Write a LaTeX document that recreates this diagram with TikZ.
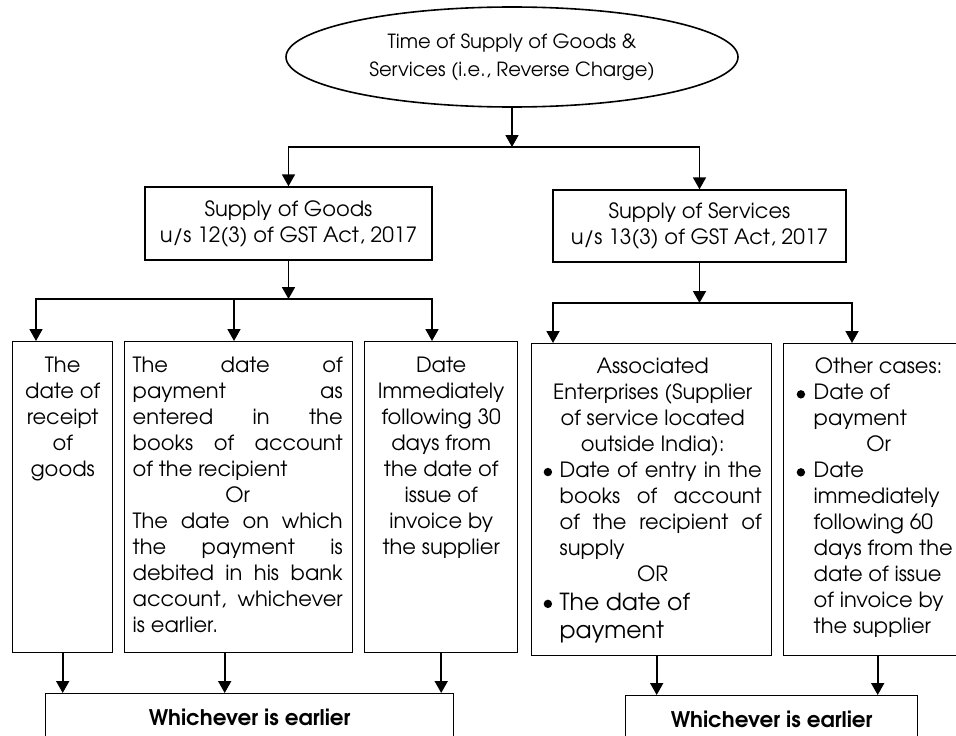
\documentclass[tikz,border=0pt]{standalone}
\usepackage{fontspec}
\setmainfont{TeX Gyre Adventor}
\usetikzlibrary{shapes.geometric,arrows.meta}
\newcommand\boxtext[6]{\parbox[c][#2pt][t]{#1pt}{\vspace*{#5pt}\hspace*{#3pt}\parbox[t]{\dimexpr#1pt-#3pt-#4pt\relax}{\tolerance=10000 #6}}}
\newcommand\bul[1]{\noindent\makebox[#1pt][l]{\tikz[baseline=0pt]\fill (4.2pt,0.27em) circle (4.2pt);}}
\begin{document}
\begin{tikzpicture}[x=1pt,y=-1pt,
  box/.style={draw, line width=1.4pt, rectangle, inner sep=0pt, anchor=north west, font=\fontsize{21}{26}\selectfont},
  cbox/.style={draw, line width=1.4pt, rectangle, inner sep=0pt, align=center, font=\fontsize{21}{26}\selectfont},
  wbox/.style={draw, line width=1.4pt, rectangle, inner sep=0pt, anchor=north west, minimum height=48pt, font=\fontsize{21.5}{24}\selectfont\bfseries},
  arr/.style={line width=1.8pt, -{Triangle[width=13pt,length=12pt]}}]
\fill[white] (0,0) rectangle (956,736);
\useasboundingbox (0,0) rectangle (956,736);

\node[draw, ellipse, line width=1.6pt, minimum width=452pt, minimum height=100pt, align=center,
  font=\fontsize{19.5}{28}\selectfont] (top) at (512,57) {Time of Supply of Goods \&\\Services (i.e., Reverse Charge)};

\node[cbox, minimum width=287pt, minimum height=73pt] (goods) at (288.5,223.5) {Supply of Goods\\u/s 12(3) of GST Act, 2017};
\node[cbox, minimum width=293pt, minimum height=72pt] (serv) at (699.5,226) {Supply of Services\\u/s 13(3) of GST Act, 2017};

\node[box] (b1) at (12,341) {\boxtext{100}{311}{0}{0}{15.5}{\centering The\\date of\\receipt\\of\\goods\par}};
\node[box] (b2) at (124,341) {\boxtext{228}{311}{8}{10}{15.5}{%
{\parfillskip=0pt plus 1fil The date of\linebreak payment as\linebreak entered in the\linebreak books of account\linebreak of the recipient\par}
{\centering Or\par}
{\parfillskip=0pt plus 1fil The date on which\linebreak the payment is\linebreak debited in his bank\linebreak account, whichever\linebreak is earlier.\par}}};
\node[box] (b3) at (364,341) {\boxtext{153}{311}{3}{3}{15.5}{\centering Date\\Immediately\\following 30\\days from\\the date of\\issue of\\invoice by\\the supplier\par}};

\node[box] (assoc) at (531,343) {\boxtext{240}{312}{12}{10}{14.5}{%
{\centering Associated\\Enterprises (Supplier\\of service located\\outside India):\par}
{\hangindent=16pt\hangafter=1\parfillskip=0pt plus 1fil\bul{16}Date of entry in the\linebreak books of account\linebreak of the recipient of\linebreak supply\par}
{\centering OR\par}
{\fontsize{23.5}{28.5}\selectfont\raggedright\hangindent=16pt\hangafter=1\bul{16}The date of\newline payment\par}}};
\node[box] (other) at (783,343) {\boxtext{188}{312}{13}{11}{14.5}{%
{\centering Other cases:\par}
{\raggedright\hangindent=17pt\hangafter=1\bul{17}Date of\newline payment\par}
{\centering Or\par}
{\raggedright\hangindent=17pt\hangafter=1\bul{17}Date\newline immediately\newline following 60\newline days from the\newline date of issue\newline of invoice by\newline the supplier\par}}};

\node[wbox, minimum width=408pt] (w1) at (45,693) {Whichever is earlier};
\node[wbox, minimum width=292pt] (w2) at (625,695) {Whichever is earlier};

% connectors
\coordinate (tj) at (512,147);
\draw[arr] (top.south) -- (tj);
\draw[arr] (tj) -| (goods.north);
\draw[arr] (tj) -| (serv.north);

\coordinate (gj) at (288.5,299);
\coordinate (g1) at (36,299);
\coordinate (g2) at (234,299);
\coordinate (g3) at (432,299);
\draw[arr] (goods.south) -- (gj);
\draw[arr] (gj) -| (g1 |- b1.north);
\draw[arr] (gj) -| (g3 |- b3.north);
\draw[arr] (g2) -- (g2 |- b2.north);

\coordinate (sj) at (699.5,303);
\coordinate (s1) at (553,303);
\coordinate (s2) at (852,303);
\draw[arr] (serv.south) -- (sj);
\draw[arr] (sj) -| (s1 |- assoc.north);
\draw[arr] (sj) -| (s2 |- other.north);

\coordinate (b2o) at ([xshift=-14pt]b2.south);
\coordinate (aso) at ([xshift=5pt]assoc.south);
\draw[arr] (b1.south) -- (b1.south |- w1.north);
\draw[arr] (b2o) -- (b2o |- w1.north);
\draw[arr] (b3.south) -- (b3.south |- w1.north);
\draw[arr] (aso) -- (aso |- w2.north);
\draw[arr] (other.south) -- (other.south |- w2.north);
\end{tikzpicture}
\end{document}
